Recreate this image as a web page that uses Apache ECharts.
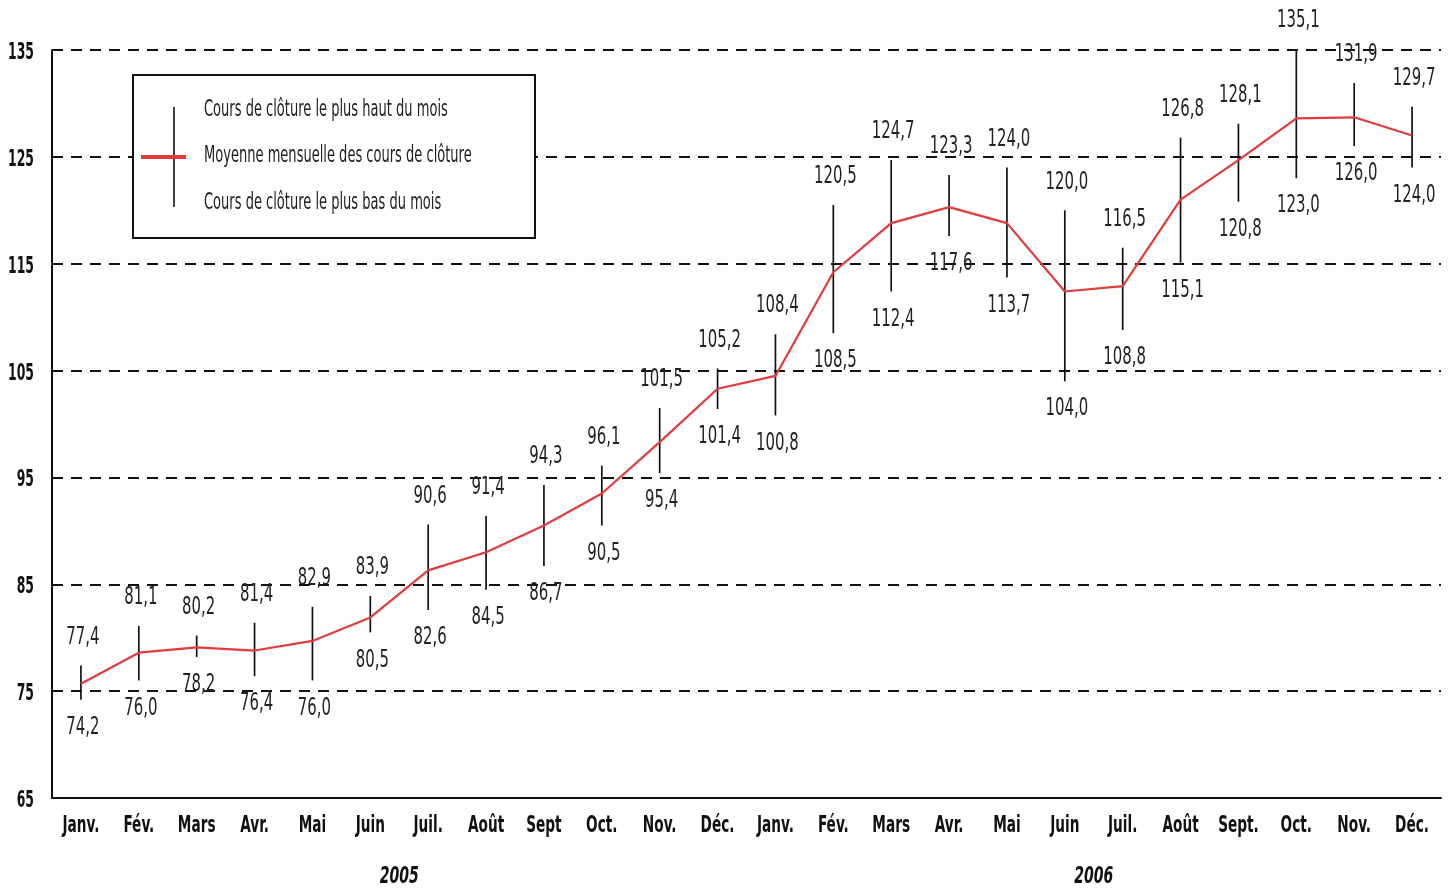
<!DOCTYPE html>
<html><head><meta charset="utf-8">
<script src="https://cdn.jsdelivr.net/npm/echarts@6/dist/echarts.min.js"></script>
<style>html,body{margin:0;padding:0;background:#fff}#c{width:1453px;height:889px}</style>
</head><body><div id="c"></div>
<script>
var months = ['Janv.','Fév.','Mars','Avr.','Mai','Juin','Juil.','Août','Sept','Oct.','Nov.','Déc.',
              'Janv.','Fév.','Mars','Avr.','Mai','Juin','Juil.','Août','Sept.','Oct.','Nov.','Déc.'];
var years = ['2005','2006'];
var yearSpans = [[0,11],[12,23]];
var highs = [77.4,81.1,80.2,81.4,82.9,83.9,90.6,91.4,94.3,96.1,101.5,105.2,
             108.4,120.5,124.7,123.3,124.0,120.0,116.5,126.8,128.1,135.1,131.9,129.7];
var lows  = [74.2,76.0,78.2,76.4,76.0,80.5,82.6,84.5,86.7,90.5,95.4,101.4,
             100.8,108.5,112.4,117.6,113.7,104.0,108.8,115.1,120.8,123.0,126.0,124.0];
var means = [75.7,78.6,79.1,78.8,79.7,81.9,86.3,88.0,90.5,93.5,98.3,103.3,
             104.5,114.2,118.8,120.3,118.8,112.4,112.9,121.0,124.7,128.6,128.7,127.0];
var yTickLabels = [65,75,85,95,105,115,125,135];
var legendTexts = ['Cours de clôture le plus haut du mois','Moyenne mensuelle des cours de clôture','Cours de clôture le plus bas du mois'];

var FONT = '"DejaVu Sans Condensed","Liberation Sans Narrow",sans-serif';
function fmt(v){return v.toFixed(1).replace('.',',');}
var yMin = yTickLabels[0], yMax = yTickLabels[yTickLabels.length-1];
var yInt = yTickLabels[1]-yTickLabels[0];

var chart = echarts.init(document.getElementById('c'));
var rangeData = highs.map(function(h,i){return [i, lows[i], h];});

chart.setOption({
  animation:false,
  backgroundColor:'#fff',
  grid:{left:52,right:12,top:50,bottom:91,containLabel:false,outerBoundsMode:'none'},
  xAxis:{
    type:'category', data:months, boundaryGap:true,
    axisLine:{show:true,lineStyle:{color:'#111',width:2}},
    axisTick:{show:false},
    axisLabel:{show:false},
    splitLine:{show:false}
  },
  yAxis:{
    type:'value', min:yMin, max:yMax, interval:yInt,
    axisLine:{show:true,lineStyle:{color:'#111',width:2}},
    axisTick:{show:false},
    axisLabel:{show:false},
    splitLine:{show:true,lineStyle:{color:'#111',width:2,type:[11,8]}}
  },
  series:[{
    type:'custom',
    data:rangeData,
    encode:{x:0,y:[1,2]},
    z:3,
    renderItem:function(params,api){
      var i=api.value(0), lo=api.value(1), hi=api.value(2);
      var p1=api.coord([i,lo]), p2=api.coord([i,hi]);
      var st={font:'24px '+FONT, fill:'#222', align:'center', verticalAlign:'middle'};
      return {type:'group',children:[
        {type:'line',shape:{x1:p1[0],y1:p1[1],x2:p2[0],y2:p2[1]},style:{stroke:'#111',lineWidth:1.7}},
        {type:'text',x:p2[0]+2,y:p2[1]-28,scaleX:0.69,style:Object.assign({text:fmt(hi)},st)},
        {type:'text',x:p1[0]+2,y:p1[1]+28,scaleX:0.69,style:Object.assign({text:fmt(lo)},st)}
      ]};
    }
  },{
    type:'line', data:means, symbol:'none', z:4,
    lineStyle:{color:'#e23b3b',width:2.2}
  },{
    type:'custom',
    data:months.map(function(m,i){return [i,yMin];}),
    encode:{x:0,y:1},
    renderItem:function(params,api){
      var i=api.value(0), p=api.coord([i,api.value(1)]);
      return {type:'text',x:p[0],y:p[1]+28,scaleX:0.66,
        style:{text:months[i],font:'bold 23px '+FONT,fill:'#111',align:'center',verticalAlign:'middle'}};
    }
  },{
    type:'custom',
    data:yearSpans.map(function(s){return [s[0],s[1],yMin];}),
    encode:{x:[0,1],y:2},
    renderItem:function(params,api){
      var a=api.coord([api.value(0),api.value(2)]), b=api.coord([api.value(1),api.value(2)]);
      return {type:'text',x:(a[0]+b[0])/2,y:a[1]+79,scaleX:0.68,
        style:{text:years[params.dataIndex],font:'italic bold 23px '+FONT,fill:'#111',align:'center',verticalAlign:'middle'}};
    }
  },{
    type:'custom',
    data:yTickLabels.map(function(v){return [0,v];}),
    encode:{x:0,y:1},
    renderItem:function(params,api){
      var p=api.coord([0,api.value(1)]);
      return {type:'text',x:params.coordSys.x-18,y:p[1]+3,scaleX:0.6,
        style:{text:String(yTickLabels[params.dataIndex]),font:'bold 23px '+FONT,fill:'#111',align:'right',verticalAlign:'middle'}};
    }
  }],
  graphic:[
    {type:'rect',shape:{x:133,y:75,width:402,height:163},style:{fill:'#fff',stroke:'#111',lineWidth:2},z:10},
    {type:'line',shape:{x1:174,y1:107,x2:174,y2:207},style:{stroke:'#111',lineWidth:1.6},z:11},
    {type:'line',shape:{x1:141,y1:157,x2:186,y2:157},style:{stroke:'#e23b3b',lineWidth:4},z:11},
    {type:'text',x:204,y:110,scaleX:0.63,style:{text:legendTexts[0],font:'23px '+FONT,fill:'#222',verticalAlign:'middle'},z:11},
    {type:'text',x:204,y:156,scaleX:0.63,style:{text:legendTexts[1],font:'23px '+FONT,fill:'#222',verticalAlign:'middle'},z:11},
    {type:'text',x:204,y:203,scaleX:0.63,style:{text:legendTexts[2],font:'23px '+FONT,fill:'#222',verticalAlign:'middle'},z:11}
  ]
});
</script></body></html>
